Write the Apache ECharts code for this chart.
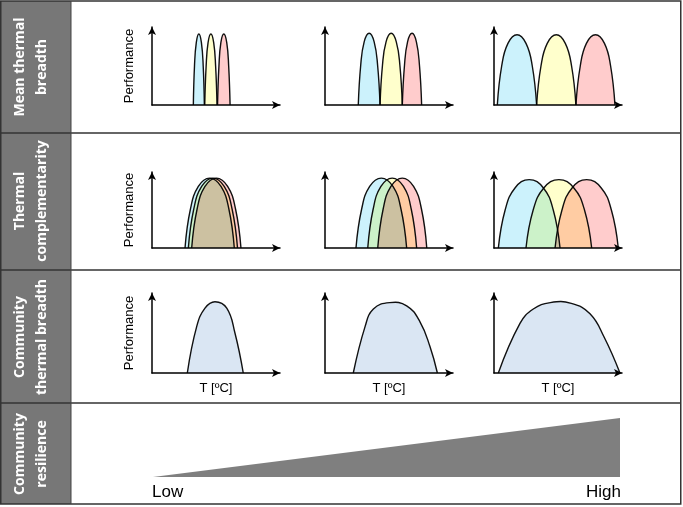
<!DOCTYPE html>
<html>
<head>
<meta charset="utf-8">
<script src="https://cdn.jsdelivr.net/npm/echarts@6/dist/echarts.min.js"></script>
<style>
  html, body { margin: 0; padding: 0; background: #fff; }
  #main { width: 683px; height: 507px; }
</style>
</head>
<body>
<div id="main"></div>
<script>
// row 1: mean thermal breadth (x = temperature 0-100, y = performance 0-100)
var r1p1Blue = [32.3, 33.2, 34.6, 36.6, 38.6, 40.0, 40.9];
var r1p1Yellow = [41.2, 42.3, 43.8, 46.0, 48.2, 49.7, 50.8];
var r1p1Pink = [51.2, 52.3, 53.8, 56.1, 58.4, 59.9, 61.0];
var r1p1H = [0, 50, 80, 91, 80, 50, 0];
var r1p2Blue = [26, 27.9, 30.6, 34.5, 38.4, 41.1, 43];
var r1p2Yellow = [43, 44.9, 47.7, 51.7, 55.7, 58.5, 60.4];
var r1p2Pink = [60.4, 62.1, 64.5, 68, 71.4, 73.8, 75.5];
var r1p2H = [0, 51, 81, 92, 81, 51, 0];
var r1p3Blue = [2.6, 6, 10.9, 18, 25, 29.9, 33.3];
var r1p3Yellow = [33.3, 36.7, 41.6, 48.7, 55.7, 60.6, 64];
var r1p3Pink = [64, 67.4, 72.2, 79.3, 86.3, 91.1, 94.5];
var r1p3H = [0, 50, 79, 90, 79, 50, 0];

// row 2: thermal complementarity
var r2p1Blue = [25.8, 30.0, 36.2, 45.0, 53.9, 60.1, 64.3];
var r2p1Yellow = [28.4, 32.6, 38.8, 47.6, 56.4, 62.6, 66.8];
var r2p1Pink = [31, 35.2, 41.4, 50.3, 59.1, 65.3, 69.5];
var r2p1H = [0, 51, 81, 92, 81, 51, 0];
var r2p2Blue = [24.2, 28.6, 34.9, 44, 53.1, 59.4, 63.8];
var r2p2Yellow = [33.4, 37.6, 43.7, 52.5, 61.3, 67.4, 71.6];
var r2p2Pink = [41.2, 45.4, 51.5, 60.4, 69.2, 75.4, 79.5];
var r2p2H = [0, 51, 81, 92, 81, 51, 0];
var r2p3Blue = [3.4, 8.7, 16.4, 27.5, 38.6, 46.3, 51.6];
var r2p3Yellow = [25, 30.6, 38.9, 50.7, 62.4, 70.7, 76.3];
var r2p3Pink = [47.7, 53.1, 61.0, 72.4, 83.8, 91.7, 97.1];
var r2p3H = [0, 50, 79, 90, 79, 50, 0];

// row 3: community thermal breadth
var r3p1X = [27.6, 34.9, 41.4, 49.2, 58.4, 64.8, 71.3];
var r3p1Y = [0, 58, 81, 89, 81, 50, 0];
var r3p2X = [22.1, 31.3, 37.8, 50.5, 63.8, 74.2, 82, 87.8];
var r3p2Y = [0, 58, 80, 88, 84, 64, 33, 0];
var r3p3X = [3.4, 20.3, 30.7, 44, 60.4, 75, 86, 98.4];
var r3p3Y = [0, 62, 80, 88, 87, 74, 45, 0];

// row 4: community resilience wedge
var resilienceX = [0, 100];
var resilienceY = [0, 100];

var rowLabels = ['Mean thermal\nbreadth', 'Thermal\ncomplementarity', 'Community\nthermal breadth', 'Community\nresilience'];

var BLUE = '#ccf2fc', YELLOW = '#ffffcc', PINK = '#ffcccc', COMMUNITY = '#dae6f3';

var colLeft = [152, 325, 494];
var rowTop = [27, 172, 293];
var rowHeight = [78, 76, 80];

var grids = [], xAxes = [], yAxes = [], series = [];

for (var r = 0; r < 3; r++) {
  for (var c = 0; c < 3; c++) {
    grids.push({ left: colLeft[c], top: rowTop[r], width: 128, height: rowHeight[r] });
    var idx = grids.length - 1;
    xAxes.push({
      gridIndex: idx, type: 'value', min: 0, max: 100,
      name: r === 2 ? 'T [ºC]' : '', nameLocation: 'middle', nameGap: 9,
      nameTextStyle: { fontFamily: 'Liberation Sans', fontSize: 13, color: '#000', verticalAlign: 'top' },
      axisLine: { show: true, lineStyle: { color: '#000', width: 1.5 }, symbol: ['none', 'arrow'], symbolSize: [6, 8] },
      axisTick: { show: false }, axisLabel: { show: false }, splitLine: { show: false }
    });
    yAxes.push({
      gridIndex: idx, type: 'value', min: 0, max: 100,
      name: c === 0 ? 'Performance' : '', nameLocation: 'middle', nameGap: 16,
      nameTextStyle: { fontFamily: 'Liberation Sans', fontSize: 13, color: '#000' },
      axisLine: { show: true, lineStyle: { color: '#000', width: 1.5 }, symbol: ['none', 'arrow'], symbolSize: [6, 8] },
      axisTick: { show: false }, axisLabel: { show: false }, splitLine: { show: false }
    });
  }
}

function curve(gi, xs, ys, color) {
  var pts = xs.map(function (x, i) { return [x, ys[i]]; });
  return {
    type: 'custom', xAxisIndex: gi, yAxisIndex: gi, silent: true,
    data: pts,
    renderItem: function (params, api) {
      if (params.dataIndex !== 0) return;
      var coords = pts.map(function (p) { return api.coord(p); });
      return {
        type: 'polyline',
        shape: { points: coords, smooth: 0.45 },
        style: { fill: color, stroke: '#111', lineWidth: 1.4, blend: 'multiply' }
      };
    }
  };
}

series.push(curve(0, r1p1Blue, r1p1H, BLUE), curve(0, r1p1Yellow, r1p1H, YELLOW), curve(0, r1p1Pink, r1p1H, PINK));
series.push(curve(1, r1p2Blue, r1p2H, BLUE), curve(1, r1p2Yellow, r1p2H, YELLOW), curve(1, r1p2Pink, r1p2H, PINK));
series.push(curve(2, r1p3Blue, r1p3H, BLUE), curve(2, r1p3Yellow, r1p3H, YELLOW), curve(2, r1p3Pink, r1p3H, PINK));
series.push(curve(3, r2p1Blue, r2p1H, BLUE), curve(3, r2p1Yellow, r2p1H, YELLOW), curve(3, r2p1Pink, r2p1H, PINK));
series.push(curve(4, r2p2Blue, r2p2H, BLUE), curve(4, r2p2Yellow, r2p2H, YELLOW), curve(4, r2p2Pink, r2p2H, PINK));
series.push(curve(5, r2p3Blue, r2p3H, BLUE), curve(5, r2p3Yellow, r2p3H, YELLOW), curve(5, r2p3Pink, r2p3H, PINK));
series.push(curve(6, r3p1X, r3p1Y, COMMUNITY), curve(7, r3p2X, r3p2Y, COMMUNITY), curve(8, r3p3X, r3p3Y, COMMUNITY));

// resilience wedge
grids.push({ left: 153, top: 418, width: 467, height: 59 });
xAxes.push({ gridIndex: 9, type: 'value', min: 0, max: 100, show: false });
yAxes.push({ gridIndex: 9, type: 'value', min: 0, max: 100, show: false });
series.push({
  type: 'line', xAxisIndex: 9, yAxisIndex: 9, silent: true,
  data: resilienceX.map(function (x, i) { return [x, resilienceY[i]]; }),
  symbol: 'none', lineStyle: { width: 0 },
  areaStyle: { color: '#7f7f7f', opacity: 1 }
});

var rowCenters = [67, 201, 337, 454];
var graphics = [
  { type: 'rect', shape: { x: 0, y: 1, width: 71, height: 503 }, style: { fill: '#777777' }, z: 0 }
];
rowLabels.forEach(function (t, i) {
  graphics.push({
    type: 'text', x: 31, y: rowCenters[i], rotation: Math.PI / 2, z: 5,
    style: { text: t, fill: '#fff', font: 'bold 14px "Open Sans"', align: 'center', verticalAlign: 'middle', lineHeight: 22 }
  });
});
[133, 270, 403].forEach(function (y) {
  graphics.push({ type: 'line', shape: { x1: 0, y1: y, x2: 681, y2: y }, style: { stroke: '#333', lineWidth: 1.5 }, z: 6 });
});
graphics.push({ type: 'rect', shape: { x: 0.75, y: 1, width: 680, height: 503 }, style: { fill: null, stroke: '#333', lineWidth: 1.5 }, z: 6 });
graphics.push({ type: 'line', shape: { x1: 71, y1: 1, x2: 71, y2: 504 }, style: { stroke: '#444', lineWidth: 1 }, z: 6 });
graphics.push({ type: 'text', x: 152, y: 492, style: { text: 'Low', fill: '#000', font: '17px "Liberation Sans"', align: 'left', verticalAlign: 'middle' } });
graphics.push({ type: 'text', x: 621, y: 492, style: { text: 'High', fill: '#000', font: '17px "Liberation Sans"', align: 'right', verticalAlign: 'middle' } });

var chart = echarts.init(document.getElementById('main'), null, { renderer: 'canvas' });
chart.setOption({
  backgroundColor: '#fff',
  animation: false,
  grid: grids,
  xAxis: xAxes,
  yAxis: yAxes,
  series: series,
  graphic: graphics
});

// overlapping tolerance curves mix like transparencies: multiply their fills
var zr = chart.getZr();
zr.storage.getDisplayList(true).forEach(function (el) {
  if (el.type === 'polyline' && el.style && el.style.fill) {
    el.style.blend = 'multiply';
    el.markRedraw();
  }
});
zr.refreshImmediately();
</script>
</body>
</html>
